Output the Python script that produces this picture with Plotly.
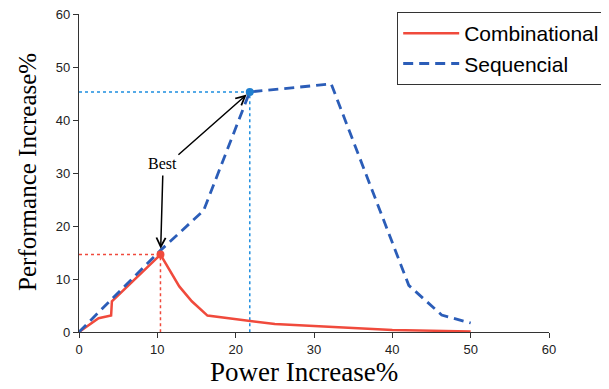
import plotly.graph_objects as go

# Combinational (red, solid)
comb_x = [0, 2.5, 4.1, 4.2, 10.4, 12.8, 14.4, 16.4, 25, 30, 40, 50]
comb_y = [0, 2.6, 3.1, 5.8, 14.6, 8.6, 5.8, 3.1, 1.5, 1.1, 0.4, 0.1]

# Sequencial (blue, dashed)
seq_x = [0, 10.4, 15.9, 21.8, 32.2, 42.1, 46.3, 50]
seq_y = [0, 15.4, 22.9, 45.3, 46.8, 8.8, 3.2, 1.7]

# Best points
best_comb = (10.4, 14.6)
best_seq = (21.8, 45.3)

xticks = [0, 10, 20, 30, 40, 50, 60]
yticks = [0, 10, 20, 30, 40, 50, 60]

RED = "#F04A3C"
BLUE = "#2B5DB8"
LBLUE = "#1E8FE0"

fig = go.Figure()

# guide lines (dotted)
fig.add_trace(go.Scatter(x=[0, best_comb[0], best_comb[0]], y=[best_comb[1], best_comb[1], 0],
                         mode="lines", line=dict(color=RED, width=1.5, dash="dot"),
                         showlegend=False, hoverinfo="skip"))
fig.add_trace(go.Scatter(x=[0, best_seq[0], best_seq[0]], y=[best_seq[1], best_seq[1], 0],
                         mode="lines", line=dict(color=LBLUE, width=1.5, dash="dot"),
                         showlegend=False, hoverinfo="skip"))

fig.add_trace(go.Scatter(x=comb_x, y=comb_y, mode="lines", name="Combinational",
                         line=dict(color=RED, width=2.5), cliponaxis=False))
fig.add_trace(go.Scatter(x=seq_x, y=seq_y, mode="lines", name="Sequencial",
                         line=dict(color=BLUE, width=2.8, dash="10px,6px"), cliponaxis=False))

fig.add_trace(go.Scatter(x=[best_comb[0]], y=[best_comb[1]], mode="markers",
                         marker=dict(color=RED, size=8), showlegend=False))
fig.add_trace(go.Scatter(x=[best_seq[0]], y=[best_seq[1]], mode="markers",
                         marker=dict(color="#2080D0", size=8), showlegend=False))

# Best label and arrows
fig.add_annotation(x=10.7, y=31.8, xref="x", yref="y", text="Best", showarrow=False,
                   font=dict(family="Liberation Serif", size=16, color="black"))
fig.add_annotation(x=10.43, y=15.7, ax=10.7, ay=29.8, xref="x", yref="y", axref="x", ayref="y",
                   text="", showarrow=True, arrowhead=5, arrowsize=1.2, arrowwidth=1.5,
                   arrowcolor="black")
fig.add_annotation(x=21.4, y=44.8, ax=12.5, ay=33.2, xref="x", yref="y", axref="x", ayref="y",
                   text="", showarrow=True, arrowhead=5, arrowsize=1.2, arrowwidth=1.5,
                   arrowcolor="black")

# axis titles
fig.add_annotation(x=0.478, y=-0.125, xref="paper", yref="paper", text="Power Increase%",
                   showarrow=False, xanchor="center", yanchor="middle",
                   font=dict(family="Liberation Serif", size=27, color="black"))
fig.add_annotation(x=-0.111, y=0.503, xref="paper", yref="paper", text="Performance Increase%",
                   showarrow=False, xanchor="center", yanchor="middle", textangle=-90,
                   font=dict(family="Liberation Serif", size=25, color="black"))

axis_common = dict(showgrid=False, zeroline=False, showline=True, linecolor="#333333",
                   linewidth=1.2, ticks="outside", ticklen=5, tickcolor="#333333",
                   tickfont=dict(family="Liberation Sans", size=13, color="#222222"),
                   ticklabeloverflow="allow",
                   range=[0, 60], automargin=False)

# page body has an 8px default margin; compensate so the plot lands where the reference has it
fig.update_layout(
    width=609, height=389,
    margin=dict(l=71, r=68, t=5, b=65),
    paper_bgcolor="white", plot_bgcolor="white",
    xaxis=dict(**axis_common, tickvals=xticks),
    yaxis=dict(**axis_common, tickvals=yticks),
    legend=dict(x=0.677, y=1.003, xanchor="left", yanchor="top",
                bordercolor="#333333", borderwidth=1, bgcolor="white",
                font=dict(family="Liberation Sans", size=21, color="black"),
                tracegroupgap=0, itemwidth=56),
    showlegend=True,
)

fig.write_html("out.html")
